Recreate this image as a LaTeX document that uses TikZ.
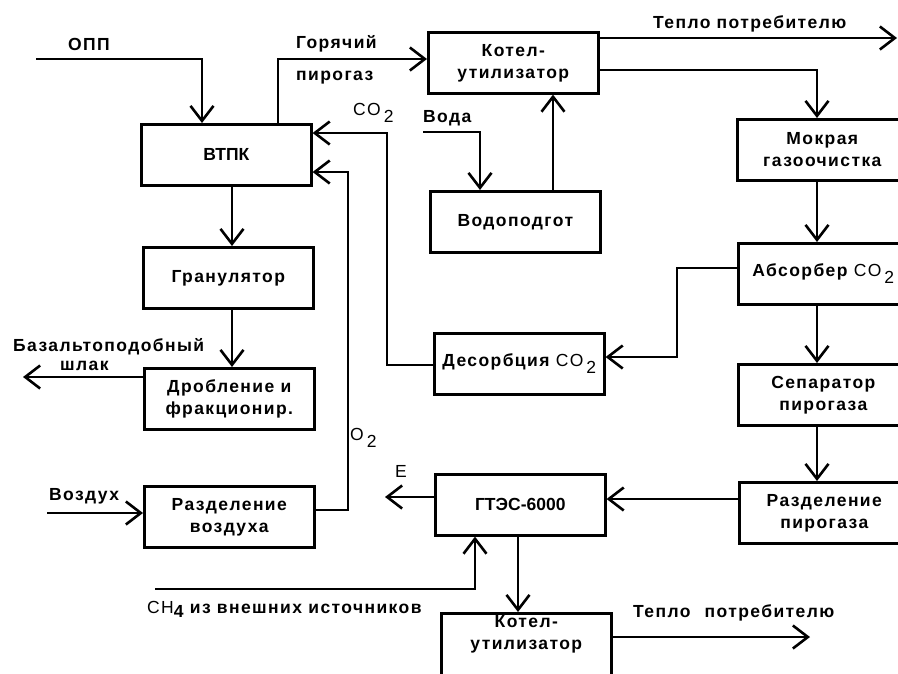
\documentclass[tikz,border=0pt]{standalone}
\usepackage{fontspec}
\setmainfont{Liberation Sans}[LetterSpace=8]
\newfontfamily\tightfont{Liberation Sans}
\usetikzlibrary{arrows.meta}
\newcommand{\ctwo}{{\mdseries CO\hspace{3pt}\raisebox{-7pt}{2}}}
\begin{document}
\begin{tikzpicture}[x=1pt,y=-1pt,
  every node/.style={font=\fontsize{17.5}{22}\selectfont\bfseries},
  box/.style={draw, line width=2.6pt, minimum width=170pt, minimum height=61pt, anchor=north west, align=center, inner sep=0pt},
  ln/.style={line width=2.6pt},
  arr/.style={ln, -{Straight Barb[length=15pt,width=23pt]}},
  lab/.style={anchor=base west, inner sep=0pt}]
\useasboundingbox (0,0) rectangle (898,673);
\fill[white] (0,0) rectangle (898,673);
\clip (0,0) rectangle (898,673);

% boxes
\node[box] (vtpk) at (140,123) {\tightfont\bfseries ВТПК};
\node[box] (gran) at (142,246) {Гранулятор};
\node[box] (drob) at (143,367) {Дробление и\\фракционир.};
\node[box] (razdv) at (143,485) {Разделение\\воздуха};
\node[box] (kotel1) at (427,31) {Котел-\\утилизатор};
\node[box] (vodo) at (429,190) {Водоподгот};
\node[box] (desorb) at (433,332) {Десорбция \ctwo};
\node[box] (gtes) at (434,473) {\tightfont\bfseries ГТЭС-6000};
\node[box, minimum height=66pt] (kotel2) at (440,612) {Котел-\\утилизатор\\[6pt]};
\node[box] (mokr) at (736,118) {Мокрая\\газоочистка};
\node[box] (absorb) at (737,242) {Абсорбер \ctwo};
\node[box] (separ) at (737,363) {Сепаратор\\пирогаза};
\node[box] (razdp) at (738,481) {Разделение\\пирогаза};

% coordinates
\coordinate (opp) at (36,59);
\coordinate (oppx) at (202,59);
\coordinate (hx) at (278,59);
\coordinate (heat1) at (897,38);
\coordinate (k1m) at (817,70);
\coordinate (voda) at (423,132);
\coordinate (vx) at (480,132);
\coordinate (wx) at (553,0);
\coordinate (gx) at (232,0);
\coordinate (sl) at (23,377);
\coordinate (c1) at (387,365);
\coordinate (c2) at (387,133);
\coordinate (o1) at (348,510);
\coordinate (o2) at (348,172);
\coordinate (a1) at (677,268);
\coordinate (a2) at (677,357);
\coordinate (rx) at (817,0);
\coordinate (r1) at (700,499);
\coordinate (e1) at (385,497);
\coordinate (ch) at (155,589);
\coordinate (chx) at (475,589);
\coordinate (tx) at (518,0);
\coordinate (h2) at (810,637);
\coordinate (vin) at (47,513);

% connectors
\draw[arr] (opp) -- (oppx) -- (vtpk.north -| oppx);
\draw[arr] (vtpk.north -| hx) -- (hx) -- (kotel1.west |- hx);
\draw[arr] (kotel1.east |- heat1) -- (heat1);
\draw[arr] (kotel1.east |- k1m) -- (k1m) -- (mokr.north -| k1m);
\draw[arr] (voda) -- (vx) -- (vodo.north -| vx);
\draw[arr] (vodo.north -| wx) -- (kotel1.south -| wx);
\draw[arr] (vtpk.south -| gx) -- (gran.north -| gx);
\draw[arr] (gran.south -| gx) -- (drob.north -| gx);
\draw[arr] (drob.west |- sl) -- (sl);
\draw[arr] (desorb.west |- c1) -- (c1) -- (c2) -- (vtpk.east |- c2);
\draw[arr] (razdv.east |- o1) -- (o1) -- (o2) -- (vtpk.east |- o2);
\draw[arr] (vin) -- (razdv.west |- vin);
\draw[arr] (absorb.west |- a1) -- (a1) -- (a2) -- (desorb.east |- a2);
\draw[arr] (mokr.south -| rx) -- (absorb.north -| rx);
\draw[arr] (absorb.south -| rx) -- (separ.north -| rx);
\draw[arr] (separ.south -| rx) -- (razdp.north -| rx);
\draw[arr] (razdp.west |- r1) -- (gtes.east |- r1);
\draw[arr] (gtes.west |- e1) -- (e1);
\draw[arr] (ch) -- (chx) -- (gtes.south -| chx);
\draw[arr] (gtes.south -| tx) -- (kotel2.north -| tx);
\draw[arr] (kotel2.east |- h2) -- (h2);

% labels
\node[lab] (lopp) at (68,50) {ОПП};
\node[lab] (lgor) at (296,48) {Горячий};
\node[lab] (lpir) at (296,80) {пирогаз};
\node[lab] (lco) at (353,115) {\ctwo};
\node[lab] (lvoda) at (423,122) {Вода};
\node[lab] (lteplo1) at (653,28) {Тепло потребителю};
\node[lab] (lbaz) at (13,351) {Базальтоподобный};
\node[lab] (lshl) at (60,370) {шлак};
\node[lab] (lo2) at (350,440) {\mdseries O\hspace{3pt}\raisebox{-7pt}{2}};
\node[lab] (lvozd) at (49,500) {Воздух};
\node[lab] (le) at (395,477) {\mdseries E};
\node[lab] (lch) at (147,613) {{\mdseries CH}\raisebox{-4pt}{4} из внешних источников};
\node[lab] (lteplo2) at (633,617) {Тепло\hspace{8pt} потребителю};
\end{tikzpicture}
\end{document}
